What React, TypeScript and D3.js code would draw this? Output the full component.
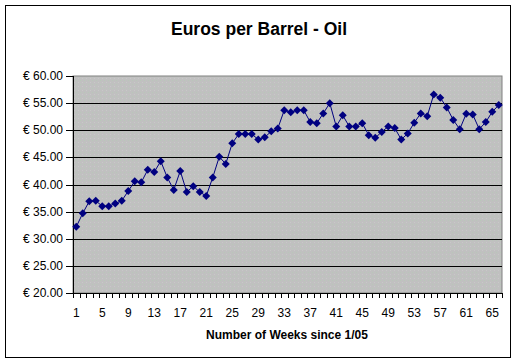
import React from "react";
import * as d3 from "d3";

const weeks: number[] = d3.range(1, 67);
const prices: number[] = [
  32.2, 34.7, 36.9, 37.0, 36.0, 36.0, 36.5, 37.0, 38.8, 40.6,
  40.4, 42.7, 42.3, 44.3, 41.3, 39.0, 42.5, 38.6, 39.7, 38.6,
  37.9, 41.3, 45.1, 43.8, 47.6, 49.3, 49.3, 49.3, 48.3, 48.7,
  49.8, 50.3, 53.7, 53.3, 53.7, 53.7, 51.5, 51.3, 53.1, 55.0,
  50.7, 52.75, 50.7, 50.7, 51.3, 49.1, 48.6, 49.7, 50.7, 50.4,
  48.3, 49.4, 51.4, 53.1, 52.6, 56.6, 56.0, 54.2, 51.9, 50.2,
  53.05, 52.9, 50.2, 51.5, 53.4, 54.65,
];
const yTicks: number[] = [20, 25, 30, 35, 40, 45, 50, 55, 60];
const xLabelWeeks: number[] = [1, 5, 9, 13, 17, 21, 25, 29, 33, 37, 41, 45, 49, 53, 57, 61, 65];
const title = "Euros per Barrel - Oil";
const xTitle = "Number of Weeks since 1/05";

export default function App() {
  const W = 516, H = 364;
  const left = 73, right = 502, top = 76, bottom = 293;
  const x = d3.scaleBand<number>().domain(weeks).range([left, right]);
  const y = d3.scaleLinear().domain([20, 60]).range([bottom, top]);
  const cx = (w: number) => (x(w) as number) + x.bandwidth() / 2;
  const line = d3.line<number>().x((_, i) => cx(weeks[i])).y((d) => y(d));
  const font = "'Liberation Sans', Arial, sans-serif";
  return (
    <svg width={W} height={H} style={{ position: "absolute", left: 0, top: 0 }} fontFamily={font}>
      <defs>
        <pattern id="dots" width="4" height="4" patternUnits="userSpaceOnUse">
          <rect width="4" height="4" fill="#c0c0c0" />
          <rect x="0" y="0" width="1" height="1" fill="#b8c8b8" />
          <rect x="2" y="2" width="1" height="1" fill="#c8c8c8" />
        </pattern>
      </defs>
      <rect x={0} y={0} width={W} height={H} fill="#fff" />
      <rect x={5.5} y={5.5} width={505} height={352} fill="#fff" stroke="#000" strokeWidth={1} />
      <text x={259} y={35} textAnchor="middle" fontSize={17.5} fontWeight="bold">{title}</text>
      <rect x={left} y={top} width={right - left} height={bottom - top} fill="url(#dots)" stroke="#808080" strokeWidth={1} />
      {yTicks.map((t) => (
        <g key={t}>
          {t > 20 && t < 60 ? (
            <line x1={left} x2={right} y1={Math.round(y(t)) + 0.5} y2={Math.round(y(t)) + 0.5} stroke="#000" />
          ) : null}
          <line x1={left - 7} x2={left} y1={Math.round(y(t)) + 0.5} y2={Math.round(y(t)) + 0.5} stroke="#000" />
          <text x={left - 10} y={y(t) + 4} textAnchor="end" fontSize={12}>
            {"€ " + t.toFixed(2)}
          </text>
        </g>
      ))}
      <line x1={left + 0.5} x2={left + 0.5} y1={top} y2={bottom} stroke="#000" />
      <line x1={left} x2={right} y1={bottom + 0.5} y2={bottom + 0.5} stroke="#000" />
      {d3.range(0, weeks.length + 1).map((i) => {
        const xx = Math.round(left + i * x.step()) + 0.5;
        return <line key={i} x1={xx} x2={xx} y1={bottom} y2={bottom + 5} stroke="#000" />;
      })}
      {xLabelWeeks.map((w) => (
        <text key={w} x={cx(w)} y={bottom + 24} textAnchor="middle" fontSize={12}>{w}</text>
      ))}
      <text x={287} y={bottom + 46} textAnchor="middle" fontSize={12} fontWeight="bold">{xTitle}</text>
      <path d={line(prices) || ""} fill="none" stroke="#000080" strokeWidth={1} />
      {prices.map((p, i) => {
        const px = cx(weeks[i]), py = y(p);
        return (
          <path key={i} d={`M${px},${py - 4}L${px + 4},${py}L${px},${py + 4}L${px - 4},${py}Z`} fill="#000080" />
        );
      })}
    </svg>
  );
}
